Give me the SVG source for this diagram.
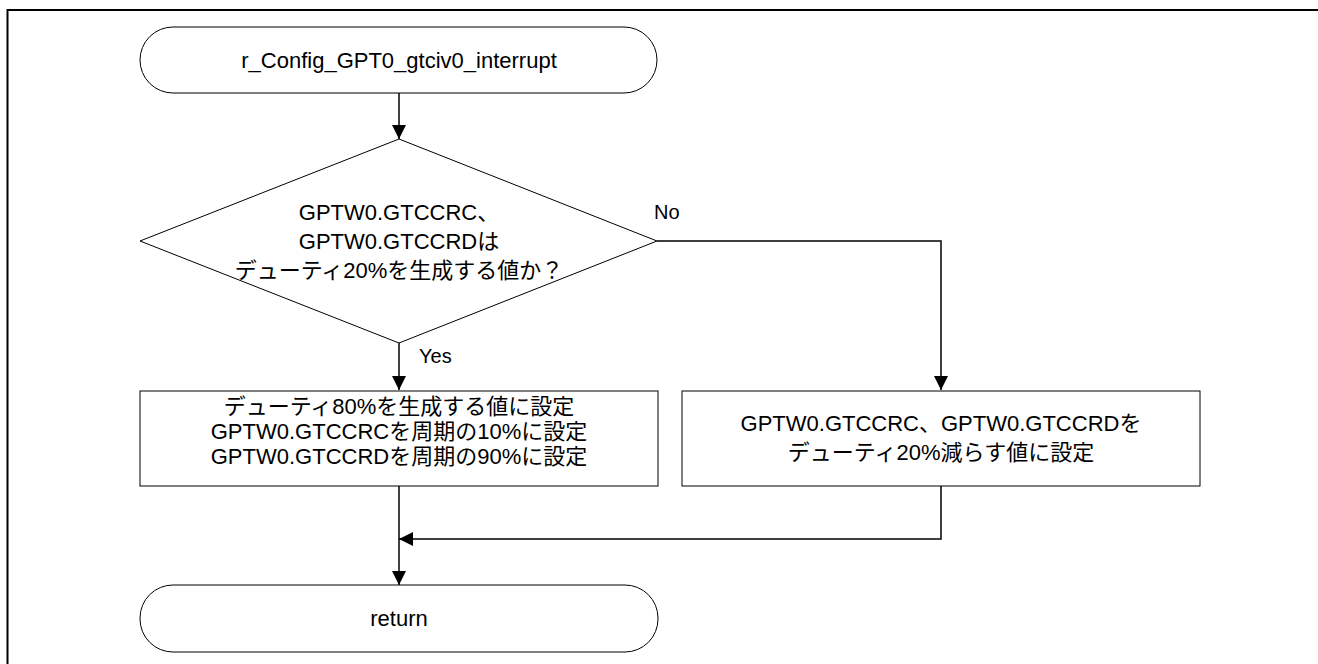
<svg xmlns="http://www.w3.org/2000/svg" width="1318" height="664" viewBox="0 0 1318 664">
<style>
.shape{fill:#fff;stroke:#000;stroke-width:1}
.t{font-family:"Liberation Sans","Noto Sans CJK JP",sans-serif;font-size:22px;fill:#000;text-anchor:middle}
.lbl{font-family:"Liberation Sans","Noto Sans CJK JP",sans-serif;font-size:20px;fill:#000}
.c{fill:none;stroke:#000;stroke-width:1.5}
</style>
<defs>
<marker id="ah" markerUnits="userSpaceOnUse" markerWidth="16" markerHeight="16" viewBox="0 0 16 16" refX="15" refY="8" orient="auto">
<path d="M1,1 L15,8 L1,15 Z" fill="#000"/>
</marker>
</defs>
<rect width="1318" height="664" fill="#fff"/>
<path d="M7.5,664 V10 H1318" fill="none" stroke="#000" stroke-width="2"/>
<g id="start">
<rect class="shape" x="140" y="27" width="517" height="66" rx="33" ry="33"/>
<text class="t" x="399" y="68">r_Config_GPT0_gtciv0_interrupt</text>
</g>
<g id="decision">
<polygon class="shape" points="399,139 657,241 399,343 140,241"/>
<text class="t" x="399" y="220">GPTW0.GTCCRC、</text>
<text class="t" x="399" y="249">GPTW0.GTCCRDは</text>
<text class="t" x="399" y="278">デューティ20%を生成する値か？</text>
</g>
<g id="setDuty80">
<rect class="shape" x="140" y="391" width="518" height="95"/>
<text class="t" x="399" y="414">デューティ80%を生成する値に設定</text>
<text class="t" x="399" y="439">GPTW0.GTCCRCを周期の10%に設定</text>
<text class="t" x="399" y="464">GPTW0.GTCCRDを周期の90%に設定</text>
</g>
<g id="reduceDuty">
<rect class="shape" x="682" y="391" width="518" height="95"/>
<text class="t" x="941" y="431">GPTW0.GTCCRC、GPTW0.GTCCRDを</text>
<text class="t" x="941" y="460">デューティ20%減らす値に設定</text>
</g>
<g id="end">
<rect class="shape" x="140" y="585" width="518" height="67" rx="33" ry="33"/>
<text class="t" x="399" y="626">return</text>
</g>
<g id="connectors">
<path class="c" d="M399,93 V139" marker-end="url(#ah)"/>
<path class="c" d="M399,343 V390" marker-end="url(#ah)"/>
<path class="c" d="M657,241 H941 V390" marker-end="url(#ah)"/>
<path class="c" d="M399,486 V585" marker-end="url(#ah)"/>
<path class="c" d="M941,486 V539 H399" marker-end="url(#ah)"/>
<text class="lbl" x="654" y="219">No</text>
<text class="lbl" x="419" y="363">Yes</text>
</g>
</svg>
